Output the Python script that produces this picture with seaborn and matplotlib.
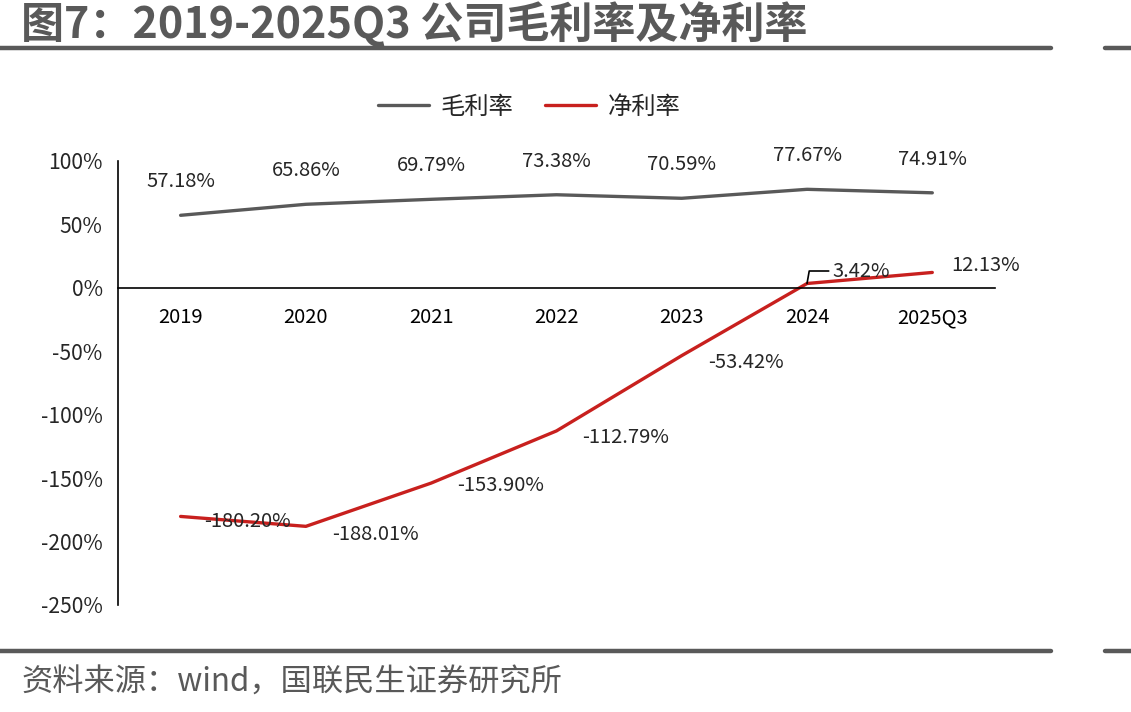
import numpy as np
import pandas as pd
import matplotlib.pyplot as plt
import seaborn as sns
from matplotlib.lines import Line2D

sns.set_style("white")
plt.rcParams["font.family"] = ["Noto Sans CJK SC", "DejaVu Sans"]
plt.rcParams["axes.unicode_minus"] = False

YEARS = ["2019", "2020", "2021", "2022", "2023", "2024", "2025Q3"]
GROSS = [57.18, 65.86, 69.79, 73.38, 70.59, 77.67, 74.91]
NET = [-180.20, -188.01, -153.90, -112.79, -53.42, 3.42, 12.13]
SERIES = ["毛利率", "净利率"]
COLORS = {"毛利率": "#595959", "净利率": "#C8201E"}
YTICKS = [100, 50, 0, -50, -100, -150, -200, -250]

df = pd.DataFrame({
    "year": YEARS * 2,
    "value": GROSS + NET,
    "series": [SERIES[0]] * len(YEARS) + [SERIES[1]] * len(YEARS),
})
df["pos"] = df["year"].map({y: i for i, y in enumerate(YEARS)})

fig = plt.figure(figsize=(11.31, 7.12), dpi=100)
ax = fig.add_axes([0.1043, 0.1503, 0.7754, 0.6236])

sns.lineplot(data=df, x="pos", y="value", hue="series", hue_order=SERIES,
             palette=COLORS, linewidth=2.4, sort=False, ax=ax, legend=False)

ax.set_xlim(-0.5, len(YEARS) - 0.5)
ax.set_ylim(-250, 100)
ax.set_yticks(YTICKS)
ax.set_yticklabels([f"{t}%" for t in YTICKS])
ax.set_xticks(range(len(YEARS)))
ax.set_xticklabels(YEARS)
ax.set_xticks(np.arange(-0.5, len(YEARS), 1.0), minor=True)
ax.tick_params(axis="x", which="major", length=0, pad=14, labelsize=14.5, colors="#000000")
ax.tick_params(axis="x", which="minor", length=7, width=1.2, direction="out", color="#000000")
ax.tick_params(axis="y", length=5, width=1.2, direction="out", labelsize=15.2, pad=6)
ax.set_xlabel("")
ax.set_ylabel("")
for s in ["top", "right"]:
    ax.spines[s].set_visible(False)
ax.spines["bottom"].set_position(("data", 0))
for s in ["left", "bottom"]:
    ax.spines[s].set_color("#000000")
    ax.spines[s].set_linewidth(1.2)
ax.grid(False)

# gross margin labels above points
for i, v in enumerate(GROSS):
    ax.annotate(f"{v:.2f}%", (i, v), xytext=(0, 24), textcoords="offset points",
                ha="center", va="center", fontsize=14.5)

# net margin labels
net_offsets = [(48, -4), (50, -6), (50, -2), (50, -5), (46, -5), (None, None), (38, 5)]
for i, v in enumerate(NET):
    if i == 5:
        ax.annotate(f"{v:.2f}%", (i, v), xytext=(18, 9), textcoords="offset points",
                    ha="left", va="center", fontsize=14.5,
                    arrowprops=dict(arrowstyle="-", color="#000000", lw=1.2,
                                    shrinkA=0, shrinkB=0,
                                    connectionstyle="angle,angleA=0,angleB=80,rad=0"))
        continue
    dx, dy = net_offsets[i]
    ax.annotate(f"{v:.2f}%", (i, v), xytext=(dx, dy), textcoords="offset points",
                ha="center", va="center", fontsize=14.5)

handles = [Line2D([0], [0], color=COLORS[s], lw=2.4) for s in SERIES]
fig.legend(handles, SERIES, loc="center", bbox_to_anchor=(0.468, 0.850), ncol=2,
           frameon=False, fontsize=17.5, handlelength=2.1, columnspacing=1.3,
           handletextpad=0.5)

# title & decoration
fig.text(0.019, 0.966, "图7：2019-2025Q3 公司毛利率及净利率", fontsize=31,
         fontweight="bold", color="#595959", ha="left", va="center")
fig.add_artist(Line2D([0, 0.929], [0.933, 0.933], color="#595959", lw=3.2))
fig.add_artist(Line2D([0.977, 1.0], [0.933, 0.933], color="#595959", lw=3.2))
fig.add_artist(Line2D([0, 0.929], [0.086, 0.086], color="#595959", lw=3.2))
fig.add_artist(Line2D([0.977, 1.0], [0.086, 0.086], color="#595959", lw=3.2))
fig.text(0.019, 0.041, "资料来源：wind，国联民生证券研究所", fontsize=22.5,
         color="#595959", ha="left", va="center")

fig.savefig("out.png", dpi=100)
